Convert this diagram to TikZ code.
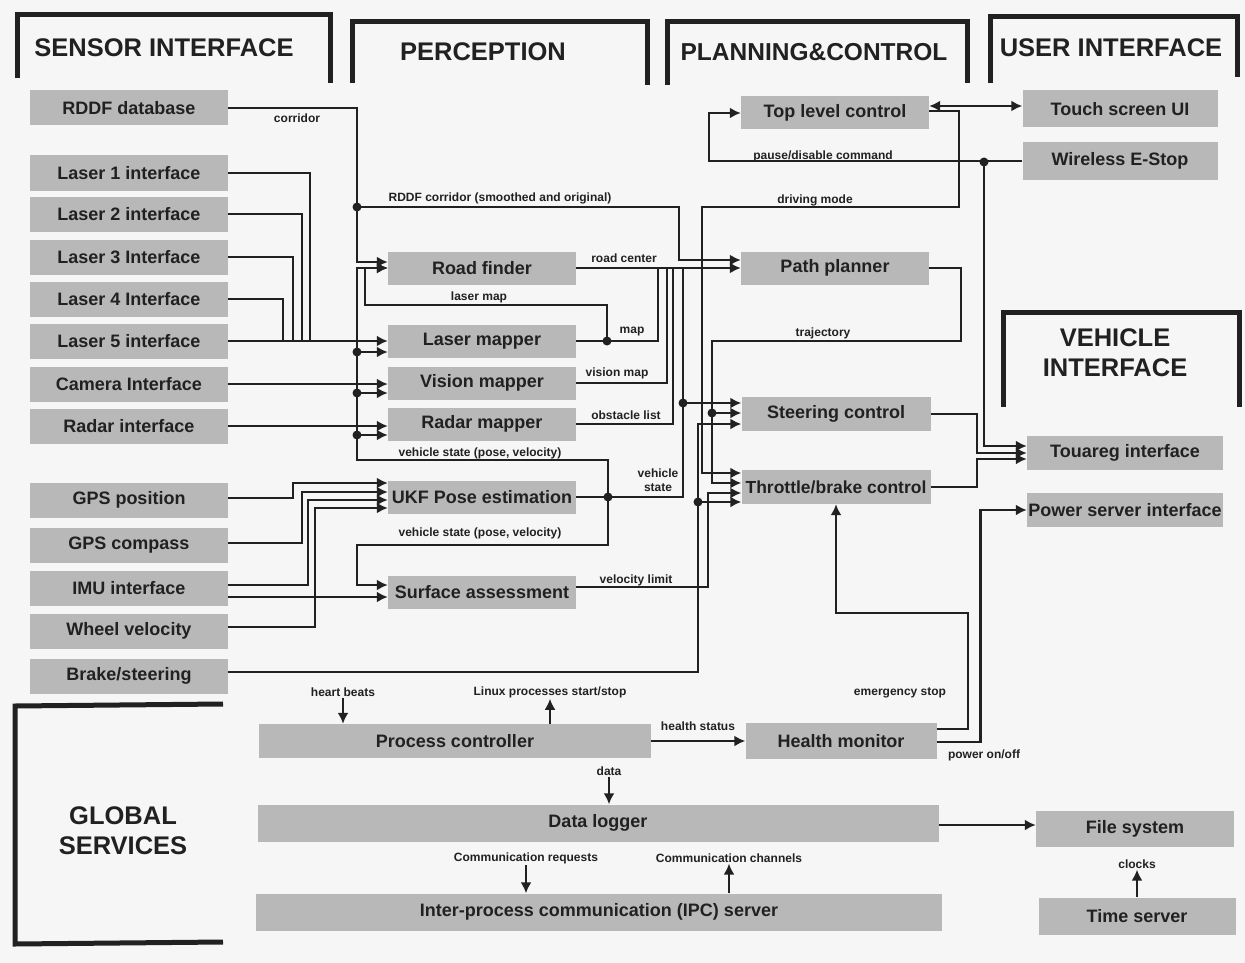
\documentclass[tikz,border=0pt]{standalone}
\usepackage{fontspec}
\setmainfont{Liberation Sans}
\usetikzlibrary{arrows.meta,calc}
\definecolor{paper}{gray}{0.965}
\definecolor{boxfill}{gray}{0.72}
\definecolor{ink}{gray}{0.13}
\begin{document}
\begin{tikzpicture}[x=1pt,y=-1pt,
  box/.style={fill=boxfill,inner sep=0pt,text=ink,font=\bfseries\fontsize{18}{20}\selectfont},
  lbox/.style={box,minimum width=198pt,minimum height=35pt},
  pbox/.style={box,minimum width=188pt,minimum height=33pt},
  ubox/.style={box,minimum width=196pt,minimum height=36pt},
  wire/.style={line width=2.8pt,draw=ink},
  arr/.style={wire,-{Latex[length=11pt,width=11pt]}},
  dbl/.style={wire,{Latex[length=11pt,width=11pt]}-{Latex[length=11pt,width=11pt]}},
  lbl/.style={font=\bfseries\fontsize{12}{13}\selectfont,text=ink,inner sep=1pt,align=center},
  head/.style={font=\bfseries\fontsize{25.5}{30}\selectfont,text=ink,align=center,inner sep=0pt},
  frame/.style={line width=5pt,draw=ink},
  dot/.style={circle,fill=ink,inner sep=0pt,minimum size=9pt}]

\fill[paper] (0,0) rectangle (1245,963);
\useasboundingbox (0,0) rectangle (1245,963);

% ---------- group frames and titles ----------
\draw[frame] (17,78) -- (17,15) -- (330,15) -- (330,83);
\node[head] (hsensor) at (164,48) {SENSOR INTERFACE};
\draw[frame] (352,83) -- (352,22) -- (647,22) -- (647,85);
\node[head] (hperc) at (483,52) {PERCEPTION};
\draw[frame] (667,85) -- (667,22) -- (967,22) -- (967,83);
\node[head,font=\bfseries\fontsize{24.5}{30}\selectfont] (hplan) at (814,52) {PLANNING\&CONTROL};
\draw[frame] (990,83) -- (990,17) -- (1237,17) -- (1237,77);
\node[head] (huser) at (1111,48) {USER INTERFACE};
\draw[frame] (1003,407) -- (1003,312) -- (1239,312) -- (1239,407);
\node[head] (hveh) at (1115,353) {VEHICLE\\INTERFACE};
\draw[frame] (223,704) -- (15,706) -- (15,944) -- (223,942);
\node[head] (hglob) at (123,831) {GLOBAL\\SERVICES};

% ---------- sensor interface ----------
\node[lbox] (rddf)  at (129,108) {RDDF database};
\node[lbox] (l1)    at (129,173) {Laser 1 interface};
\node[lbox] (l2)    at (129,214) {Laser 2 interface};
\node[lbox] (l3)    at (129,257) {Laser 3 Interface};
\node[lbox] (l4)    at (129,299) {Laser 4 Interface};
\node[lbox] (l5)    at (129,341) {Laser 5 interface};
\node[lbox] (cam)   at (129,384) {Camera Interface};
\node[lbox] (radar) at (129,426) {Radar interface};
\node[lbox] (gpsp)  at (129,500) {GPS position};
\node[lbox] (gpsc)  at (129,545) {GPS compass};
\node[lbox] (imu)   at (129,588) {IMU interface};
\node[lbox] (wheel) at (129,631) {Wheel velocity};
\node[lbox] (brake) at (129,676) {Brake/steering};

% ---------- perception ----------
\node[pbox] (road) at (482,268) {Road finder};
\node[pbox] (lmap) at (482,341) {Laser mapper};
\node[pbox] (vmap) at (482,383) {Vision mapper};
\node[pbox] (rmap) at (482,424) {Radar mapper};
\node[pbox] (ukf)  at (482,497) {UKF Pose estimation};
\node[pbox] (surf) at (482,592) {Surface assessment};

% ---------- planning & control ----------
\node[pbox] (top)      at (835,113) {Top level control};
\node[pbox] (path)     at (835,268) {Path planner};
\node[pbox,minimum width=189pt,minimum height=34pt] (steer)    at (836,414) {Steering control};
\node[pbox,minimum width=189pt,minimum height=34pt,font=\bfseries\fontsize{17.5}{20}\selectfont] (throttle) at (836,487) {Throttle/brake control};

% ---------- user and vehicle interface ----------
\node[ubox,minimum width=195pt,minimum height=37pt] (touch) at (1120,109) {Touch screen UI};
\node[ubox,minimum width=195pt,minimum height=37pt] (estop) at (1120,161) {Wireless E-Stop};
\node[ubox,minimum height=34pt] (touareg) at (1125,453) {Touareg interface};
\node[ubox,minimum height=34pt] (power)   at (1125,510) {Power server interface};

% ---------- global services ----------
\node[box,minimum width=392pt,minimum height=34pt] (proc)   at (455,741) {Process controller};
\node[box,minimum width=191pt,minimum height=36pt] (health) at (841,741) {Health monitor};
\node[box,minimum width=681pt,minimum height=37pt] (logger) at (598,823) {Data logger};
\node[box,minimum width=686pt,minimum height=37pt] (ipc)    at (599,912) {Inter-process communication (IPC) server};
\node[box,minimum width=198pt,minimum height=36pt] (fs)     at (1135,829) {File system};
\node[box,minimum width=197pt,minimum height=37pt] (time)   at (1137,916) {Time server};

% ---------- junction points ----------
\node[dot] (jcor) at (357,207) {};
\node[dot] (jlas) at (607,341) {};
\node[dot] (jv0)  at (608,497) {};
\node[dot] (jv1)  at (357,352) {};
\node[dot] (jv2)  at (357,393) {};
\node[dot] (jv3)  at (357,435) {};
\node[dot] (jvs)  at (683,403) {};
\node[dot] (jtr)  at (712,413) {};
\node[dot] (jbs)  at (698,502) {};
\node[dot] (jes)  at (984,162) {};

% ---------- laser and sensor inputs ----------
\draw[wire] (l1.east) -| (310,341);
\draw[wire] (l2.east) -| (302,341);
\draw[wire] (l3.east) -| (293,341);
\draw[wire] (l4.east) -| (283,341);
\draw[arr] (l5.east) -- (lmap.west);
\draw[arr] (cam.east) -- (cam.east -| vmap.west);
\draw[arr] (radar.east) -- (radar.east -| rmap.west);

% GPS / IMU / wheel into the pose filter
\draw[arr] ($(gpsp.east)+(0,-2)$) -| (293,483) -- ($(ukf.west)+(0,-14)$);
\draw[arr] ($(gpsc.east)+(0,-2)$) -| (302,492) -- ($(ukf.west)+(0,-5)$);
\draw[arr] ($(imu.east)+(0,-3)$) -| (308,500) -- ($(ukf.west)+(0,3)$);
\draw[arr] ($(wheel.east)+(0,-4)$) -| (315,508) -- ($(ukf.west)+(0,11)$);
\draw[arr] ($(imu.east)+(0,9)$) -- ($(surf.west)+(0,5)$);

% ---------- RDDF corridor ----------
\draw[arr] (rddf.east) -| (357,262) -- ($(road.west)+(0,-6)$);
\draw[arr] (jcor.center) -| (679,260) -- ($(path.west)+(0,-8)$);
\node[lbl] (tcor) at (297,118) {corridor};
\node[lbl] (trddf) at (500,198) {RDDF corridor (smoothed and original)};

% ---------- vehicle state distribution ----------
\draw[wire] (ukf.east) -- (jv0.center);
\draw[arr] (jv0.center) |- (357,460) |- (road.west);
\draw[arr] (jv1.center) -- (jv1.center -| lmap.west);
\draw[arr] (jv2.center) -- (jv2.center -| vmap.west);
\draw[arr] (jv3.center) -- (jv3.center -| rmap.west);
\draw[arr] (jv0.center) |- (357,545) |- ($(surf.west)+(0,-7)$);
\draw[wire] (jv0.center) -| (683,268);
\draw[arr] (jvs.center) -- (jvs.center -| steer.west);
\node[lbl] (tvs1) at (480,453) {vehicle state (pose, velocity)};
\node[lbl] (tvs2) at (480,533) {vehicle state (pose, velocity)};
\node[lbl,font=\bfseries\fontsize{12}{13.5}\selectfont] (tvs3) at (658,480) {vehicle\\state};

% ---------- perception outputs ----------
\draw[arr] (jlas.center) |- (365,305) |- (road.west);
\draw[wire] (lmap.east) -| (658,268);
\draw[wire] (vmap.east) -| (667,268);
\draw[wire] (rmap.east) -| (673,268);
\draw[arr] (road.east) -- (path.west);
\node[lbl] (troad) at (624,258) {road center};
\node[lbl] (tlmap) at (479,297) {laser map};
\node[lbl] (tmap)  at (632,332) {map};
\node[lbl] (tvis)  at (617,373) {vision map};
\node[lbl] (tobs)  at (626,415) {obstacle list};

% ---------- planning & control ----------
\draw[dbl] ($(top.east)+(0,-7)$) -- ($(touch.west)+(0,-3)$);
\draw[arr] ($(top.east)+(0,-2)$) -| (959,207) -| (702,473) -- ($(throttle.west)+(0,-14)$);
\node[lbl] (tdrv) at (815,200) {driving mode};
\draw[arr] (estop.west) -| (709,113) -- (top.west);
\node[lbl] (tpause) at (823,156) {pause/disable command};
\draw[arr] (jes.center) |- ($(touareg.west)+(0,-7)$);
\draw[arr] (path.east) -| (961,341) -| (712,483) -- ($(throttle.west)+(0,-4)$);
\draw[arr] (jtr.center) -- (jtr.center -| steer.west);
\node[lbl] (ttraj) at (823,333) {trajectory};
\draw[arr] ($(surf.east)+(0,-5)$) -| (708,493) -- ($(throttle.west)+(0,6)$);
\node[lbl] (tvel) at (636,580) {velocity limit};
\draw[arr] ($(brake.east)+(0,-4)$) -| (698,424) -- ($(steer.west)+(0,10)$);
\draw[arr] (jbs.center) -- (jbs.center -| throttle.west);
\draw[arr] (steer.east) -| (977,453) -- (touareg.west);
\draw[arr] (throttle.east) -| (977,459) -- ($(touareg.west)+(0,6)$);

% ---------- health monitor outputs ----------
\draw[arr] ($(health.east)+(0,-12)$) -| (968,613) -| (throttle.south);
\node[lbl] (temg) at (900,693) {emergency stop};
\draw[arr] ($(health.east)+(0,1)$) -| ($(power.west)+(-46,0)$) -- (power.west);
\node[lbl] (tpow) at (984,755) {power on/off};

% ---------- global services ----------
\node[lbl] (thb) at (343,692) {heart beats};
\draw[arr] (thb.south) -- (proc.north -| thb.south);
\node[lbl] (tlx) at (550,692) {Linux processes start/stop};
\draw[arr] (proc.north -| tlx.south) -- (tlx.south);
\draw[arr] (proc.east) -- (health.west);
\node[lbl] (thlth) at (698,726) {health status};
\node[lbl] (tdata) at (609,771) {data};
\draw[arr] (tdata.south) -- (logger.north -| tdata.south);
\draw[arr] ($(logger.east)+(0,2)$) -- ($(logger.east -| fs.west)+(0,2)$);
\node[lbl] (treq) at (526,858) {Communication requests};
\draw[arr] (treq.south) -- (ipc.north -| treq.south);
\node[lbl] (tchan) at (729,858) {Communication channels};
\draw[arr] (ipc.north -| tchan.south) -- (tchan.south);
\node[lbl] (tclk) at (1137,864) {clocks};
\draw[arr] (time.north -| tclk.south) -- (tclk.south);
\end{tikzpicture}
\end{document}
